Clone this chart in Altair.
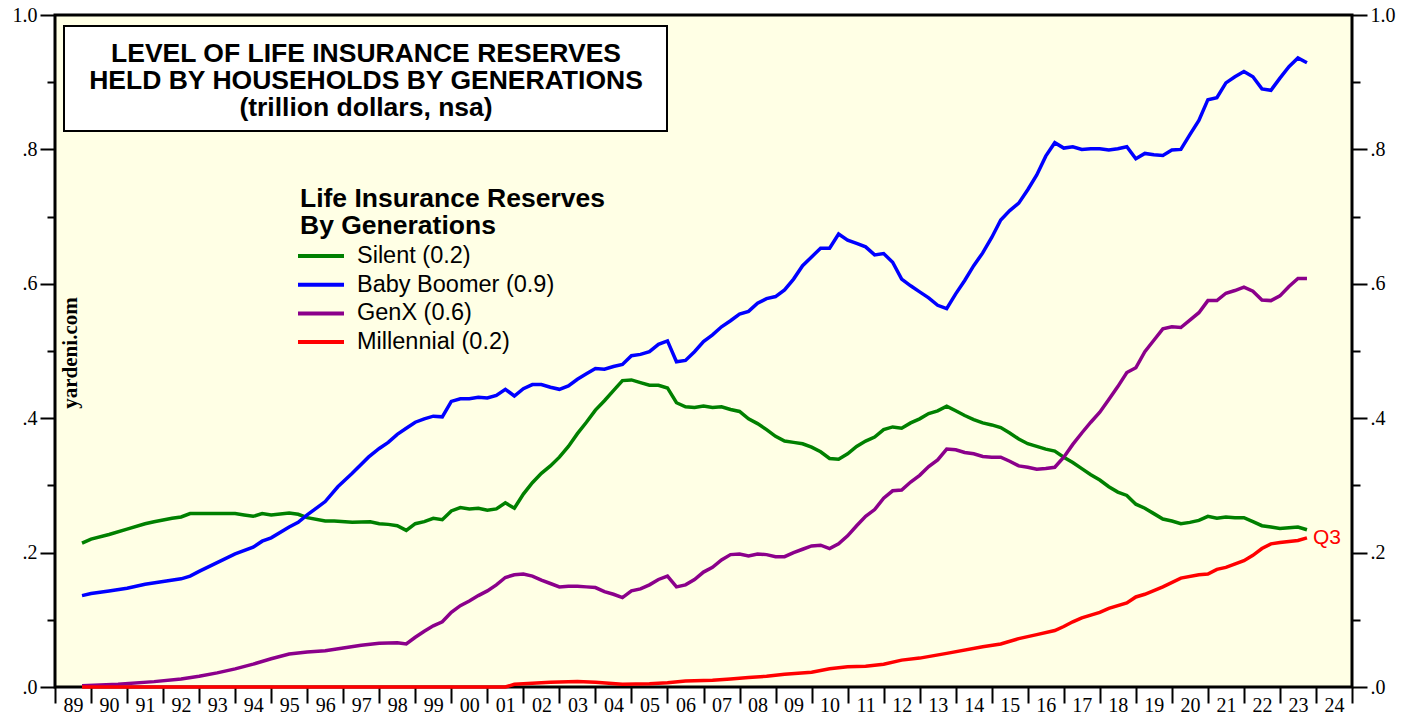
import altair as alt
import pandas as pd

# ---------------- data (trillion dollars, quarterly) ----------------
series_names = ["Silent", "Baby Boomer", "GenX", "Millennial"]
legend_labels = ["Silent (0.2)", "Baby Boomer (0.9)", "GenX (0.6)", "Millennial (0.2)"]
colors = ["#008000", "#0000FF", "#8B008B", "#FF0000"]

silent_t = [1989.75, 1990.0, 1990.5, 1991.0, 1991.5, 1991.75, 1992.25, 1992.5, 1992.75, 1993.25,
            1994.0, 1994.25, 1994.5, 1994.75, 1995.0, 1995.5, 1995.75, 1996.0, 1996.5, 1996.75,
            1997.25, 1997.75, 1998.0, 1998.25, 1998.5, 1998.75, 1999.0, 1999.25, 1999.5, 1999.75,
            2000.0, 2000.25, 2000.5, 2000.75, 2001.0, 2001.25, 2001.5, 2001.75, 2002.0, 2002.25,
            2002.5, 2002.75, 2003.0, 2003.25, 2003.5, 2003.75, 2004.0, 2004.25, 2004.5, 2004.75,
            2005.0, 2005.25, 2005.5, 2005.75, 2006.0, 2006.25, 2006.5, 2006.75, 2007.0, 2007.25,
            2007.5, 2007.75, 2008.0, 2008.25, 2008.5, 2008.75, 2009.0, 2009.25, 2009.5, 2009.75,
            2010.0, 2010.25, 2010.5, 2010.75, 2011.0, 2011.25, 2011.5, 2011.75, 2012.0, 2012.25,
            2012.5, 2012.75, 2013.0, 2013.25, 2013.5, 2013.75, 2014.0, 2014.25, 2014.5, 2014.75,
            2015.0, 2015.25, 2015.5, 2015.75, 2016.0, 2016.25, 2016.5, 2016.75, 2017.0, 2017.25,
            2017.5, 2017.75, 2018.0, 2018.25, 2018.5, 2018.75, 2019.0, 2019.25, 2019.5, 2019.75,
            2020.0, 2020.25, 2020.5, 2020.75, 2021.0, 2021.25, 2021.5, 2021.75, 2022.0, 2022.25,
            2022.5, 2022.75, 2023.0, 2023.25, 2023.5, 2023.75]
silent_v = [0.214, 0.220, 0.227, 0.235, 0.243, 0.246, 0.251, 0.253, 0.258, 0.258,
            0.258, 0.256, 0.254, 0.258, 0.256, 0.259, 0.257, 0.252, 0.247, 0.247,
            0.245, 0.246, 0.243, 0.242, 0.240, 0.233, 0.243, 0.246, 0.251, 0.249,
            0.262, 0.267, 0.265, 0.266, 0.263, 0.265, 0.274, 0.266, 0.287, 0.304,
            0.318, 0.329, 0.342, 0.358, 0.377, 0.394, 0.412, 0.426, 0.441, 0.456,
            0.457, 0.453, 0.449, 0.449, 0.445, 0.423, 0.417, 0.416, 0.418, 0.416,
            0.417, 0.413, 0.410, 0.399, 0.392, 0.383, 0.373, 0.366, 0.364, 0.362,
            0.357, 0.350, 0.340, 0.339, 0.347, 0.358, 0.366, 0.372, 0.383, 0.387,
            0.385, 0.393, 0.399, 0.407, 0.411, 0.418, 0.411, 0.404, 0.398, 0.393,
            0.390, 0.386, 0.378, 0.369, 0.362, 0.358, 0.354, 0.351, 0.342, 0.334,
            0.325, 0.316, 0.308, 0.298, 0.290, 0.285, 0.272, 0.266, 0.258, 0.250,
            0.247, 0.243, 0.245, 0.248, 0.254, 0.251, 0.253, 0.252, 0.252, 0.246,
            0.240, 0.238, 0.236, 0.237, 0.238, 0.234]

boomer_t = [1989.75, 1990.0, 1990.5, 1991.0, 1991.5, 1992.0, 1992.5, 1992.75, 1993.0, 1993.5,
            1994.0, 1994.5, 1994.75, 1995.0, 1995.5, 1995.75, 1996.0, 1996.5, 1996.85, 1997.25,
            1997.7, 1998.0, 1998.25, 1998.5, 1998.75, 1999.0, 1999.25, 1999.5, 1999.75,
            2000.0, 2000.25, 2000.5, 2000.75, 2001.0, 2001.25, 2001.5, 2001.75, 2002.0, 2002.25,
            2002.5, 2002.75, 2003.0, 2003.25, 2003.5, 2003.75, 2004.0, 2004.25, 2004.5, 2004.75,
            2005.0, 2005.25, 2005.5, 2005.75, 2006.0, 2006.25, 2006.5, 2006.75, 2007.0, 2007.25,
            2007.5, 2007.75, 2008.0, 2008.25, 2008.5, 2008.75, 2009.0, 2009.25, 2009.5, 2009.75,
            2010.0, 2010.25, 2010.5, 2010.75, 2011.0, 2011.25, 2011.5, 2011.75, 2012.0, 2012.25,
            2012.5, 2012.75, 2013.0, 2013.25, 2013.5, 2013.75, 2014.0, 2014.25, 2014.5, 2014.75,
            2015.0, 2015.25, 2015.5, 2015.75, 2016.0, 2016.25, 2016.5, 2016.75, 2017.0, 2017.25,
            2017.5, 2017.75, 2018.0, 2018.25, 2018.5, 2018.75, 2019.0, 2019.25, 2019.5, 2019.75,
            2020.0, 2020.25, 2020.5, 2020.75, 2021.0, 2021.25, 2021.5, 2021.75, 2022.0, 2022.25,
            2022.5, 2022.75, 2023.0, 2023.25, 2023.5, 2023.75]
boomer_v = [0.136, 0.139, 0.143, 0.147, 0.153, 0.157, 0.161, 0.165, 0.172, 0.185,
            0.198, 0.208, 0.217, 0.222, 0.238, 0.245, 0.256, 0.276, 0.298, 0.318,
            0.342, 0.355, 0.364, 0.376, 0.385, 0.394, 0.399, 0.403, 0.402,
            0.425, 0.429, 0.429, 0.431, 0.430, 0.434, 0.443, 0.433, 0.444, 0.450,
            0.450, 0.446, 0.443, 0.448, 0.458, 0.466, 0.474, 0.473, 0.477, 0.480,
            0.493, 0.495, 0.499, 0.510, 0.515, 0.484, 0.486, 0.499, 0.514, 0.524,
            0.536, 0.545, 0.555, 0.559, 0.571, 0.578, 0.581, 0.591, 0.607, 0.627,
            0.640, 0.653, 0.653, 0.674, 0.665, 0.660, 0.655, 0.643, 0.645, 0.632,
            0.607, 0.597, 0.588, 0.579, 0.568, 0.563, 0.585, 0.605, 0.627, 0.646,
            0.669, 0.695, 0.709, 0.720, 0.740, 0.762, 0.790, 0.810, 0.802, 0.804,
            0.800, 0.801, 0.801, 0.799, 0.801, 0.804, 0.786, 0.794, 0.792, 0.791,
            0.799, 0.800, 0.822, 0.843, 0.874, 0.877, 0.899, 0.908, 0.916, 0.908,
            0.890, 0.888, 0.906, 0.923, 0.936, 0.929]

genx_t = [1989.75, 1990.75, 1991.75, 1992.5, 1993.0, 1993.5, 1994.0, 1994.5, 1995.0, 1995.5,
          1996.0, 1996.5, 1997.0, 1997.5, 1998.0, 1998.5, 1998.75, 1999.0, 1999.25, 1999.5,
          1999.75, 2000.0, 2000.25, 2000.5, 2000.75, 2001.0, 2001.25, 2001.5, 2001.75, 2002.0,
          2002.25, 2002.5, 2002.75, 2003.0, 2003.25, 2003.5, 2003.75, 2004.0, 2004.25, 2004.5,
          2004.75, 2005.0, 2005.25, 2005.5, 2005.75, 2006.0, 2006.25, 2006.5, 2006.75, 2007.0,
          2007.25, 2007.5, 2007.75, 2008.0, 2008.25, 2008.5, 2008.75, 2009.0, 2009.25, 2009.5,
          2009.75, 2010.0, 2010.25, 2010.5, 2010.75, 2011.0, 2011.25, 2011.5, 2011.75, 2012.0,
          2012.25, 2012.5, 2012.75, 2013.0, 2013.25, 2013.5, 2013.75, 2014.0, 2014.25, 2014.5,
          2014.75, 2015.0, 2015.25, 2015.5, 2015.75, 2016.0, 2016.25, 2016.5, 2016.75, 2017.0,
          2017.25, 2017.5, 2017.75, 2018.0, 2018.25, 2018.5, 2018.75, 2019.0, 2019.25, 2019.5,
          2019.75, 2020.0, 2020.25, 2020.5, 2020.75, 2021.0, 2021.25, 2021.5, 2021.75, 2022.0,
          2022.25, 2022.5, 2022.75, 2023.0, 2023.25, 2023.5, 2023.75]
genx_v = [0.002, 0.004, 0.008, 0.012, 0.016, 0.021, 0.027, 0.034, 0.042, 0.049,
          0.052, 0.054, 0.058, 0.062, 0.065, 0.066, 0.064, 0.074, 0.083, 0.091,
          0.097, 0.111, 0.121, 0.128, 0.136, 0.143, 0.152, 0.163, 0.167, 0.168,
          0.165, 0.159, 0.154, 0.149, 0.150, 0.150, 0.149, 0.148, 0.142, 0.138,
          0.133, 0.143, 0.146, 0.152, 0.160, 0.165, 0.149, 0.152, 0.160, 0.171,
          0.178, 0.189, 0.197, 0.198, 0.195, 0.198, 0.197, 0.194, 0.194, 0.200,
          0.205, 0.210, 0.211, 0.206, 0.213, 0.225, 0.240, 0.254, 0.264, 0.281,
          0.292, 0.293, 0.305, 0.315, 0.328, 0.338, 0.354, 0.353, 0.349, 0.347,
          0.343, 0.342, 0.342, 0.336, 0.329, 0.327, 0.324, 0.325, 0.327, 0.342,
          0.361, 0.378, 0.394, 0.409, 0.428, 0.447, 0.468, 0.475, 0.499, 0.516,
          0.533, 0.536, 0.535, 0.546, 0.557, 0.575, 0.575, 0.586, 0.590, 0.595,
          0.589, 0.576, 0.575, 0.582, 0.596, 0.608, 0.608]

millennial_t = [1989.75, 2001.5, 2001.75, 2002.0, 2002.75, 2003.5, 2004.0, 2004.75, 2005.5, 2006.0,
                2006.5, 2007.25, 2007.75, 2008.25, 2008.75, 2009.25, 2010.0, 2010.5, 2011.0, 2011.5,
                2012.0, 2012.5, 2013.0, 2013.75, 2014.75, 2015.25, 2015.75, 2016.25, 2016.75, 2017.0,
                2017.25, 2017.5, 2018.0, 2018.25, 2018.75, 2019.0, 2019.25, 2019.75, 2020.25, 2020.75,
                2021.0, 2021.25, 2021.5, 2022.0, 2022.25, 2022.5, 2022.75, 2023.0, 2023.5, 2023.75]
millennial_v = [0.0, 0.0, 0.004, 0.005, 0.007, 0.008, 0.007, 0.004, 0.005, 0.0065,
                0.009, 0.010, 0.012, 0.014, 0.016, 0.019, 0.022, 0.027, 0.030, 0.031,
                0.034, 0.040, 0.043, 0.050, 0.060, 0.064, 0.072, 0.078, 0.084, 0.090,
                0.097, 0.103, 0.111, 0.117, 0.125, 0.134, 0.138, 0.149, 0.162, 0.167,
                0.168, 0.175, 0.178, 0.188, 0.196, 0.206, 0.213, 0.215, 0.218, 0.222]

title_lines = ["LEVEL OF LIFE INSURANCE RESERVES",
               "HELD BY HOUSEHOLDS BY GENERATIONS",
               "(trillion dollars, nsa)"]
legend_title = ["Life Insurance Reserves", "By Generations"]
end_label = "Q3"
watermark = "yardeni.com"

year_ticks = list(range(1989, 2026))
year_label_pos = [y + 0.5 for y in range(1989, 2025)]
y_major = [0.0, 0.2, 0.4, 0.6, 0.8, 1.0]
y_minor = [0.1, 0.3, 0.5, 0.7, 0.9]

# ---------------- build table ----------------
frames = []
for name, ts, vs in [("Silent", silent_t, silent_v), ("Baby Boomer", boomer_t, boomer_v),
                     ("GenX", genx_t, genx_v), ("Millennial", millennial_t, millennial_v)]:
    frames.append(pd.DataFrame({"t": ts, "v": vs, "s": name}))
df = pd.concat(frames, ignore_index=True)

W, H = 1297, 672
SANS = "Liberation Sans"
SERIF = "Liberation Serif"

x_scale = alt.Scale(domain=[1989, 2025], nice=False, zero=False)
y_scale = alt.Scale(domain=[0, 1], nice=False, zero=True)
c_scale = alt.Scale(domain=series_names, range=colors)

ylab = "datum.value >= 1 ? '1.0' : '.' + format(datum.value * 10, '.0f')"


def y_axis(orient, values, major):
    if major:
        return alt.Axis(orient=orient, values=values, labelExpr=ylab, tickSize=15, tickWidth=2,
                        tickColor="black", domain=False, grid=False, title=None,
                        labelFont=SERIF, labelFontSize=20, labelColor="black", labelPadding=3,
                        labelOverlap=False)
    return alt.Axis(orient=orient, values=values, labels=False, tickSize=8, tickWidth=2,
                    tickColor="black", domain=False, grid=False, title=None)


x_tick_axis = alt.Axis(orient="bottom", values=year_ticks, labels=False, tickSize=16, tickWidth=2,
                       tickColor="black", domain=False, grid=False, title=None)
x_label_axis = alt.Axis(orient="bottom", values=year_label_pos,
                        labelExpr="substring(toString(floor(datum.value)), 2, 4)",
                        ticks=False, domain=False, grid=False, title=None,
                        labelFont=SERIF, labelFontSize=20, labelColor="black", labelPadding=8,
                        labelOverlap=False, labelFlush=False, labelBound=False)

lines = alt.Chart(df).mark_line(strokeWidth=3.5, clip=False).encode(
    x=alt.X("t:Q", scale=x_scale, axis=x_tick_axis),
    y=alt.Y("v:Q", scale=y_scale, axis=y_axis("left", y_major, True)),
    color=alt.Color("s:N", scale=c_scale, legend=None),
)

ax2 = alt.Chart(df).mark_point(opacity=0).encode(
    x=alt.X("t:Q", scale=x_scale, axis=x_label_axis),
    y=alt.Y("v:Q", scale=y_scale, axis=y_axis("right", y_major, True)),
)
ax3 = alt.Chart(df).mark_point(opacity=0).encode(
    x=alt.X("t:Q", scale=x_scale, axis=None),
    y=alt.Y("v:Q", scale=y_scale, axis=y_axis("left", y_minor, False)),
)
ax4 = alt.Chart(df).mark_point(opacity=0).encode(
    x=alt.X("t:Q", scale=x_scale, axis=None),
    y=alt.Y("v:Q", scale=y_scale, axis=y_axis("right", y_minor, False)),
)

one = pd.DataFrame({"k": [0]})

title_box = alt.Chart(one).mark_rect(fill="white", stroke="black", strokeWidth=2).encode(
    x=alt.value(9), x2=alt.value(612), y=alt.value(11), y2=alt.value(116))
title_text = alt.Chart(one).mark_text(
    text=title_lines, font=SANS, fontSize=26.5, fontWeight="bold", color="black",
    align="center", baseline="alphabetic", lineHeight=27).encode(
    x=alt.value(311), y=alt.value(47))

leg_title = alt.Chart(one).mark_text(
    text=legend_title, font=SANS, fontSize=26.5, fontWeight="bold", color="black",
    align="left", baseline="alphabetic", lineHeight=27).encode(
    x=alt.value(245), y=alt.value(192))

legend_layers = []
for i, (lab, col) in enumerate(zip(legend_labels, colors)):
    yy = 241 + i * 28.7
    legend_layers.append(alt.Chart(one).mark_rule(color=col, strokeWidth=4).encode(
        x=alt.value(243), x2=alt.value(289), y=alt.value(yy)))
    legend_layers.append(alt.Chart(one).mark_text(
        text=lab, font=SANS, fontSize=23.5, color="black", align="left", baseline="middle").encode(
        x=alt.value(302), y=alt.value(yy)))

wm = alt.Chart(one).mark_text(
    text=watermark, font=SERIF, fontSize=21, fontWeight="bold", color="black",
    angle=270, align="center", baseline="middle").encode(x=alt.value(16), y=alt.value(338))

q3 = alt.Chart(pd.DataFrame({"t": [millennial_t[-1]], "v": [millennial_v[-1]]})).mark_text(
    text=end_label, font=SANS, fontSize=21, color="#FF0000", align="left", baseline="middle",
    dx=6).encode(
    x=alt.X("t:Q", scale=x_scale, axis=None),
    y=alt.Y("v:Q", scale=y_scale, axis=None))

chart = alt.layer(
    ax2, ax3, ax4, title_box, title_text, leg_title, *legend_layers, wm, lines, q3
).resolve_axis(x="independent", y="independent").properties(
    width=W, height=H,
    autosize=alt.AutoSizeParams(type="none"),
    padding={"left": 47, "top": 7, "right": 56, "bottom": 31},
    background="white",
).configure_view(fill="#FFFFE5", stroke="black", strokeWidth=3)

chart.save("out.html", embed_options={"renderer": "svg", "actions": False})
